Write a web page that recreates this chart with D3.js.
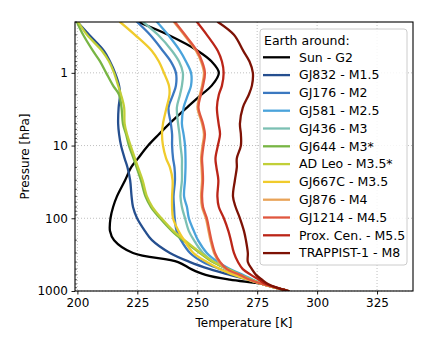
<!DOCTYPE html>
<html><head><meta charset="utf-8">
<script src="https://cdn.jsdelivr.net/npm/d3@7"></script>
<style>body{margin:0;background:#fff}svg{display:block}text{font-family:"DejaVu Sans",sans-serif}</style>
</head><body><svg id="c" width="436" height="349"></svg>
<script>
const pressure = [0.2,0.3,0.5,0.7,1,1.5,2,3,5,7,10,15,20,30,50,70,100,150,200,300,400,500,600,700,800,900,1000];
const seriesNames = ["Sun - G2","GJ832 - M1.5","GJ176 - M2","GJ581 - M2.5","GJ436 - M3","GJ644 - M3*","AD Leo - M3.5*","GJ667C - M3.5","GJ876 - M4","GJ1214 - M4.5","Prox. Cen. - M5.5","TRAPPIST-1 - M8"];
const seriesColors = ["#000000","#254f8f","#3b78c0","#4aa3db","#7cc0b3","#78b544","#c1cf38","#f0cb2c","#e9a358","#e0573f","#bb2518","#7d1205"];
const tSun     = [225.3,237.8,250.3,256,259,256,251.7,245.7,238.4,234,229.5,225.3,222.4,219.9,216.5,214.9,213.8,213.6,215.3,223.2,242,247.5,253.5,263.6,277,282.6,288];
const tGJ832   = [200,204.9,211.1,213.6,215.7,217.4,217.8,217.2,217,217.4,218.2,219.7,220.9,222,222.6,223.2,224.9,228.2,231.1,238.6,247,255.3,263.6,271.1,277,282.6,288];
const tGJ176   = [224.9,230.3,235.7,239,241.1,241.1,239.9,238,239,239.5,239.5,239.9,240.5,240.7,240.1,240.3,240.6,241.4,243.2,247,252.4,259.5,266.1,272,277,282.6,288];
const tGJ581   = [233.2,237.8,242.8,245.3,247.4,247.4,246.1,244.3,243.6,244.3,244.9,245.1,245.1,244.9,244.5,245.7,246.5,248.6,250.3,254,258.6,263.6,269,273.2,277,282.6,288];
const tGJ436   = [227.4,233.6,239.5,242.4,244,243.6,242.8,241.5,242,242.6,243,243.6,243.6,243.6,243,243.6,244.9,246.5,248.6,252.4,257,262.4,267.8,272.8,277,282.6,288];
const tGJ644   = [199.8,202.4,206.5,209.5,212,214.9,217.4,218.4,219,220.3,221.5,223.4,224.7,226.5,228.4,230.7,234.5,239.5,244,251.1,256.5,262.8,267.8,272.4,277,282.6,288];
const tADLeo   = [200.3,204,210.3,213.2,215.3,217,218.2,219.5,219.7,220.7,222.2,224,225.3,227.2,229,231.3,235.1,240.1,244.7,251.5,257,262.8,267.8,272.4,277,282.6,288];
const tGJ667C  = [217.8,224,231.1,234,236.1,238.2,238.4,237.2,235.7,235.3,235.7,237,238.6,239.7,239.5,239.5,239.9,242.2,244.5,248.4,254,259.5,265.3,271.1,277,282.6,288];
const tGJ876   = [240.3,244.5,249.5,251.6,252.8,252,251.1,250.1,252,252.8,252.2,251.6,251.8,252,251.6,252,253.6,254.7,255.5,257,259.1,262,267.4,271.7,277,282.6,288];
const tGJ1214  = [240.7,244.9,249.9,252,253.2,252.4,251.5,250.5,252.4,253.2,252.6,252,252.2,252.4,252,252.4,254,255.1,255.9,257.4,259.5,262.4,267.8,272,277,282.6,288];
const tProxCen = [249.9,254,258.6,260.3,261,260.3,259,258.2,258.9,259.5,258.6,257.6,258,258.8,258.4,259,261.1,263,264,265.3,267,269,272.4,275.7,278.6,283.2,288];
const tTRAPPIST= [258.6,265.3,269.2,271.8,273.2,272.8,271.5,269,267.8,268.2,268.2,266.5,266.5,265.7,264.9,266,267.8,269.5,270.3,271.1,271.1,272.8,274.5,277,279.5,283.2,288];
const seriesValues = [tSun,tGJ832,tGJ176,tGJ581,tGJ436,tGJ644,tADLeo,tGJ667C,tGJ876,tGJ1214,tProxCen,tTRAPPIST];
const xTicks = [200,225,250,275,300,325];
const yTicks = [1,10,100,1000];
const legendTitle = "Earth around:";

const svg = d3.select("#c");
const L=75, R=413, T=22, B=291;
const x = d3.scaleLinear().domain([199,340]).range([L,R]);
const y = d3.scaleLog().domain([0.2,1000]).range([T,B]);

// grid
const grid = svg.append("g");
xTicks.forEach(v=>grid.append("line").attr("x1",x(v)).attr("x2",x(v)).attr("y1",T).attr("y2",B)
  .attr("stroke","#b0b0b0").attr("stroke-width",0.8).attr("stroke-dasharray","1,2"));
yTicks.forEach(v=>grid.append("line").attr("x1",L).attr("x2",R).attr("y1",y(v)).attr("y2",y(v))
  .attr("stroke","#b0b0b0").attr("stroke-width",0.8).attr("stroke-dasharray","1,2"));

svg.append("clipPath").attr("id","clip").append("rect").attr("x",L).attr("y",T).attr("width",R-L).attr("height",B-T);
const line = d3.line().x(d=>x(d[1])).y(d=>y(d[0])).curve(d3.curveCatmullRom.alpha(0.5));
const lines = svg.append("g").attr("clip-path","url(#clip)");
seriesValues.forEach((vals,i)=>{
  lines.append("path").datum(pressure.map((p,j)=>[p,vals[j]]))
    .attr("d",line).attr("fill","none").attr("stroke",seriesColors[i]).attr("stroke-width",2.3)
    .attr("stroke-linejoin","round").attr("stroke-linecap","round");
});

// axes
const xAxis = svg.append("g").attr("transform",`translate(0,${B})`)
  .call(d3.axisBottom(x).tickValues(xTicks).tickSize(3.5).tickPadding(3.5).tickFormat(d3.format("d")));
const yAxis = svg.append("g").attr("transform",`translate(${L},0)`)
  .call(d3.axisLeft(y).tickValues(yTicks).tickSize(3.5).tickPadding(3.5).tickFormat(d3.format("d")));
[xAxis,yAxis].forEach(a=>{a.select(".domain").remove();a.selectAll("text").attr("font-size",12).attr("fill","#000").style("font-family","DejaVu Sans");a.selectAll("line").attr("stroke","#000").attr("stroke-width",0.9);});
// minor ticks (inside)
const minor=[];
for(let dec=0.1;dec<1000;dec*=10){for(let k=2;k<=9;k++){const v=+(dec*k).toPrecision(3);if(v>=0.2&&v<=1000)minor.push(v);}}
svg.append("g").selectAll("line").data(minor).join("line")
  .attr("x1",L).attr("x2",L+2).attr("y1",d=>y(d)).attr("y2",d=>y(d)).attr("stroke","#000").attr("stroke-width",0.6);

svg.append("rect").attr("x",L).attr("y",T).attr("width",R-L).attr("height",B-T)
  .attr("fill","none").attr("stroke","#000").attr("stroke-width",1.1);

svg.append("text").attr("x",(L+R)/2).attr("y",327).attr("text-anchor","middle").attr("font-size",12).text("Temperature [K]");
svg.append("text").attr("transform",`translate(29,${(T+B)/2}) rotate(-90)`).attr("text-anchor","middle").attr("font-size",12).text("Pressure [hPa]");

// legend
const lg = svg.append("g");
lg.append("rect").attr("x",260).attr("y",29).attr("width",147).attr("height",236).attr("rx",3)
  .attr("fill","#fff").attr("fill-opacity",0.85).attr("stroke","#cccccc").attr("stroke-width",1);
lg.append("text").attr("x",264).attr("y",44.5).attr("font-size",12.5).text(legendTitle);
seriesNames.forEach((n,i)=>{
  const yy = 57.3 + i*17.8;
  lg.append("line").attr("x1",263).attr("x2",290).attr("y1",yy).attr("y2",yy).attr("stroke",seriesColors[i]).attr("stroke-width",2.3);
  lg.append("text").attr("x",299).attr("y",yy+4.3).attr("font-size",12.5).text(n);
});
</script></body></html>
